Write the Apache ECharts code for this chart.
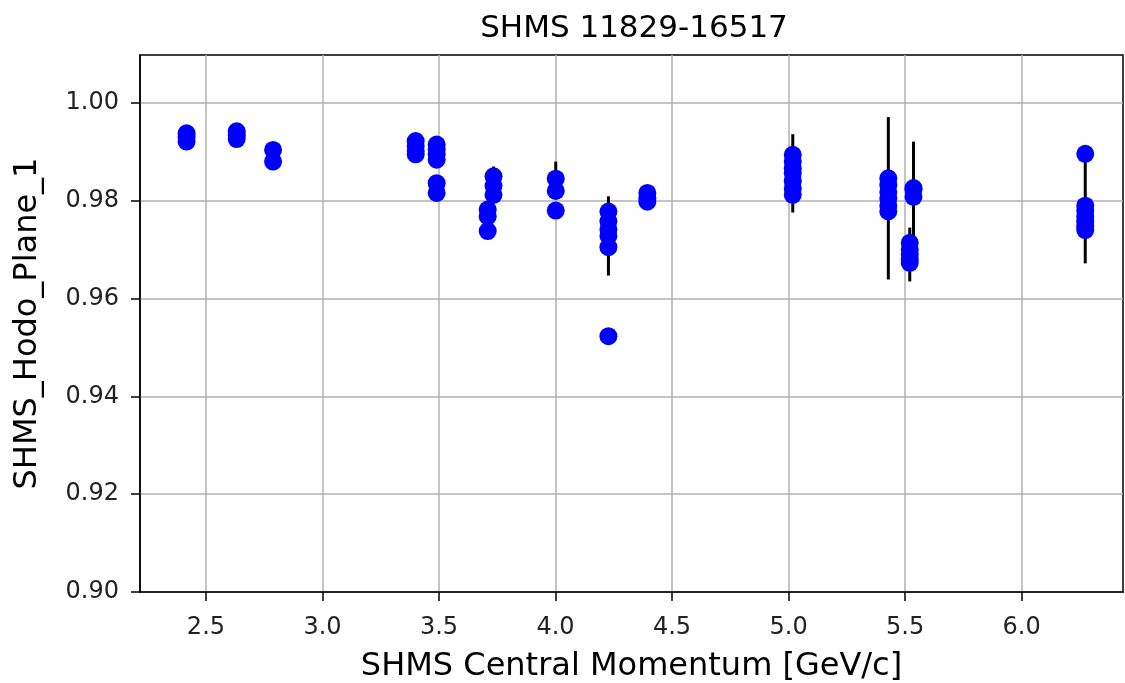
<!DOCTYPE html>
<html>
<head>
<meta charset="utf-8">
<script src="https://cdn.jsdelivr.net/npm/echarts@6/dist/echarts.min.js"></script>
<style>
  html, body { margin: 0; padding: 0; background: #fff; }
  #chart { width: 1125px; height: 683px; }
</style>
</head>
<body>
<div id="chart"></div>
<script>
// 数据: 动量 / 效率 / 误差
const momentum = [
  2.417, 2.417, 2.417,
  2.632, 2.632, 2.632,
  2.788, 2.788,
  3.400, 3.400, 3.400, 3.400,
  3.490, 3.490, 3.490, 3.490, 3.490, 3.490,
  3.709, 3.709, 3.709,
  3.734, 3.734, 3.734,
  4.001, 4.001, 4.001,
  4.227, 4.227, 4.227, 4.227, 4.227, 4.227,
  4.394, 4.394, 4.394,
  5.018, 5.018, 5.018, 5.018, 5.018, 5.018, 5.018,
  5.428, 5.428, 5.428, 5.428, 5.428, 5.428,
  5.536, 5.536, 5.536,
  5.520, 5.520, 5.520, 5.520, 5.520,
  6.273, 6.273, 6.273, 6.273, 6.273, 6.273, 6.273
];
const efficiency = [
  0.9938, 0.9930, 0.9921,
  0.9942, 0.9934, 0.9926,
  0.9904, 0.9880,
  0.9922, 0.9912, 0.9902, 0.9895,
  0.9915, 0.9905, 0.9895, 0.9884, 0.9836, 0.9816,
  0.9782, 0.9768, 0.9738,
  0.9850, 0.9830, 0.9812,
  0.9845, 0.9820, 0.9780,
  0.9778, 0.9758, 0.9741, 0.9728, 0.9705, 0.9523,
  0.9816, 0.9805, 0.9798,
  0.9894, 0.9880, 0.9866, 0.9856, 0.9840, 0.9825, 0.9812,
  0.9846, 0.9832, 0.9818, 0.9805, 0.9790, 0.9778,
  0.9826, 0.9823, 0.9808,
  0.9714, 0.9700, 0.9690, 0.9680, 0.9673,
  0.9896, 0.9790, 0.9780, 0.9768, 0.9758, 0.9748, 0.9740
];
const errors = [
  0.001, 0.001, 0.001,
  0.001, 0.001, 0.001,
  0.001, 0.001,
  0.001, 0.001, 0.001, 0.001,
  0.001, 0.001, 0.001, 0.001, 0.001, 0.001,
  0.001, 0.001, 0.001,
  0.002, 0.001, 0.001,
  0.0035, 0.001, 0.001,
  0.001, 0.001, 0.001, 0.0081, 0.001, 0.001,
  0.001, 0.001, 0.001,
  0.001, 0.001, 0.001, 0.008, 0.001, 0.001, 0.001,
  0.001, 0.001, 0.001, 0.0166, 0.001, 0.001,
  0.001, 0.0098, 0.001,
  0.001, 0.001, 0.0055, 0.001, 0.001,
  0.001, 0.001, 0.0108, 0.001, 0.001, 0.001, 0.001
];
const xTicks = [2.5, 3.0, 3.5, 4.0, 4.5, 5.0, 5.5, 6.0];
const yTicks = [0.90, 0.92, 0.94, 0.96, 0.98, 1.00];

const points = momentum.map((m, i) => [m, efficiency[i]]);
const bars = momentum.map((m, i) => [m, efficiency[i] - errors[i], efficiency[i] + errors[i]]);

let myChart = echarts.init(document.getElementById("chart"));
const font = "DejaVu Sans";
myChart.setOption({
  animation: false,
  title: {
    text: "SHMS 11829-16517",
    left: 629, top: 8, textAlign: "center",
    textStyle: { fontFamily: font, fontSize: 31, fontWeight: "normal", color: "#000" }
  },
  grid: {
    left: 140, right: 2, top: 55, bottom: 91,
    outerBoundsMode: "none",
    show: true, borderColor: "#000", borderWidth: 1.5
  },
  xAxis: {
    type: "value",
    min: 2.217, max: 6.435,
    name: "SHMS Central Momentum [GeV/c]",
    nameLocation: "middle", nameGap: 59,
    nameTextStyle: { fontFamily: font, fontSize: 32, color: "#000" },
    axisLine: { show: true, lineStyle: { color: "#000", width: 1.5 } },
    axisTick: { show: true, length: 9, lineStyle: { color: "#000", width: 1.5 },
      customValues: xTicks },
    axisLabel: { fontFamily: font, fontSize: 24, color: "#222", margin: 24,
      customValues: xTicks, formatter: v => v.toFixed(1) },
    splitLine: { show: true, lineStyle: { color: "#b0b0b0", width: 1.5 } }
  },
  yAxis: {
    type: "value",
    min: 0.90, max: 1.0098,
    name: "SHMS_Hodo_Plane_1",
    nameLocation: "middle", nameGap: 96,
    nameTextStyle: { fontFamily: font, fontSize: 32, color: "#000" },
    axisLine: { show: true, lineStyle: { color: "#000", width: 1.5 } },
    axisTick: { show: true, length: 9, lineStyle: { color: "#000", width: 1.5 },
      customValues: yTicks },
    axisLabel: { fontFamily: font, fontSize: 24, color: "#222", margin: 21,
      customValues: yTicks, formatter: v => v.toFixed(2) },
    splitLine: { show: true, lineStyle: { color: "#b0b0b0", width: 1.5 } }
  },
  series: [
    {
      type: "custom",
      data: bars,
      renderItem: function (params, api) {
        const lo = api.coord([api.value(0), api.value(1)]);
        const hi = api.coord([api.value(0), api.value(2)]);
        return {
          type: "line",
          shape: { x1: lo[0], y1: lo[1], x2: hi[0], y2: hi[1] },
          style: { stroke: "#000", lineWidth: 3 }
        };
      },
      z: 2
    },
    {
      type: "scatter",
      data: points,
      symbolSize: 18,
      itemStyle: { color: "#0000ff", opacity: 1 },
      z: 3
    }
  ]
});
window.onresize = function () {
  myChart.resize();
};
</script>
</body>
</html>
